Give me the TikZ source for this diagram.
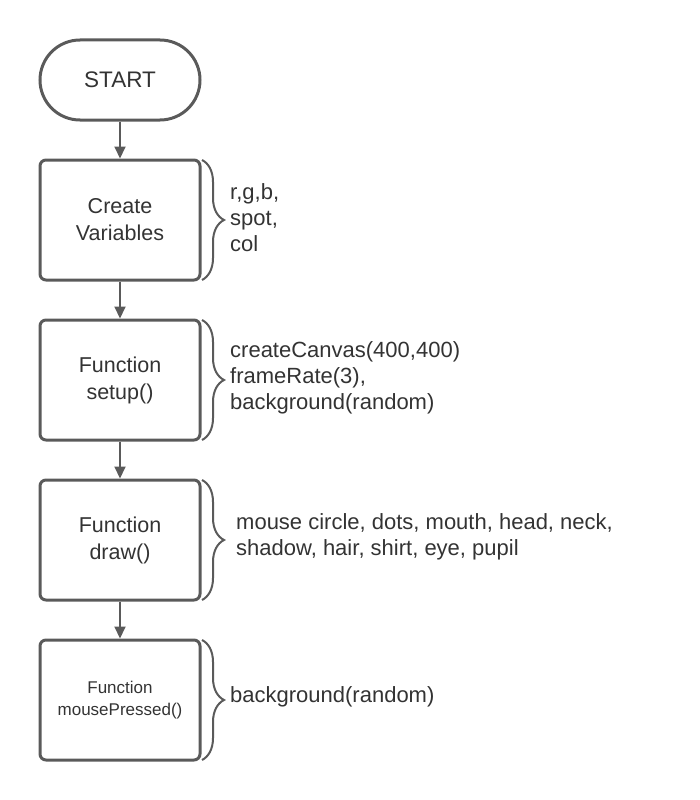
\documentclass[tikz,border=0pt]{standalone}
\usepackage{fontspec}
\setmainfont{Liberation Sans}
\usetikzlibrary{arrows.meta,decorations.pathreplacing}
\definecolor{linegray}{HTML}{5A5A5A}
\definecolor{textgray}{HTML}{333333}
\tikzset{
  term/.style={draw=linegray,line width=3pt,rounded corners=40pt,minimum width=160pt,minimum height=80pt,
    text=textgray,font=\fontsize{22.5}{27}\selectfont},
  fbox/.style={draw=linegray,line width=3pt,rounded corners=6pt,minimum width=160pt,minimum height=120pt,
    align=center,text=textgray,font=\fontsize{21.5}{27}\selectfont},
  note/.style={anchor=west,align=left,inner sep=0pt,text=textgray,font=\fontsize{22}{26}\selectfont},
  brc/.style={draw=linegray,line width=2pt,decorate,decoration={brace,amplitude=22pt}},
  arr/.style={draw=linegray,line width=2pt,-{Triangle[length=12pt,width=11pt]}}
}

\begin{document}
\begin{tikzpicture}[x=1pt,y=1pt]
  \useasboundingbox (0,0) rectangle (700,-800);
  \node[term] (start) at (120,-80) {START};
  \node[fbox] (vars)  at (120,-220) {Create\\Variables};
  \node[fbox] (setup) at (120,-380) {Function\\setup()};
  \node[fbox] (drawf) at (120,-540) {Function\\draw()};
  \node[fbox,font=\fontsize{17}{22}\selectfont] (mouse) at (120,-700) {Function\\mousePressed()};
  \draw[arr] (start) -- (vars);
  \draw[arr] (vars) -- (setup);
  \draw[arr] (setup) -- (drawf);
  \draw[arr] (drawf) -- (mouse);
  \draw[brc] (202,-160) -- (202,-280);
  \draw[brc] (202,-320) -- (202,-440);
  \draw[brc] (202,-480) -- (202,-600);
  \draw[brc] (202,-640) -- (202,-760);
  \node[note] (n1) at (230,-218) {r,g,b,\\spot,\\col};
  \node[note] (n2) at (230,-378) {createCanvas(400,400)\\frameRate(3),\\background(random)};
  \node[note] (n3) at (236,-537) {mouse circle, dots, mouth, head, neck,\\shadow, hair, shirt, eye, pupil};
  \node[note] (n4) at (230,-697) {background(random)};
\end{tikzpicture}
\end{document}
